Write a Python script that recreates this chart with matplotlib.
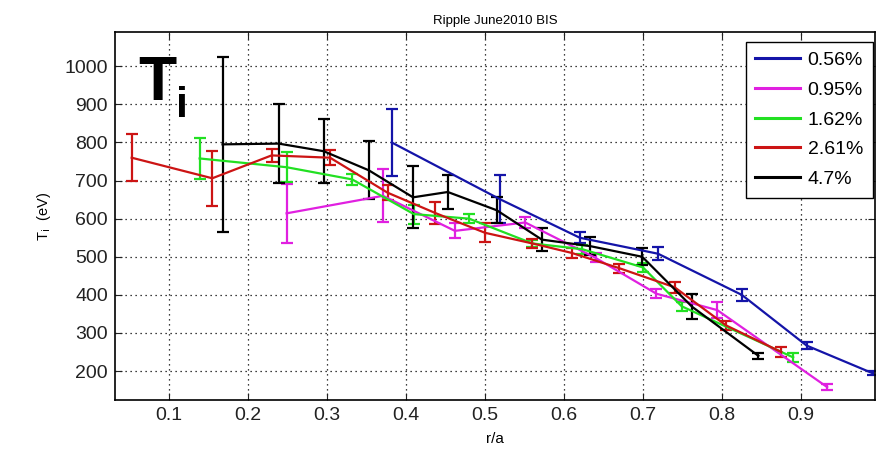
import numpy as np
import matplotlib as mpl
mpl.use('Agg')
import matplotlib.pyplot as plt
from matplotlib.lines import Line2D

plt.rcParams['font.family'] = ['Liberation Sans', 'DejaVu Sans']

# 0.56 %
r_056 = [0.382, 0.519, 0.620, 0.719, 0.825, 0.907, 0.991]
ti_056 = [800, 651, 550, 508, 400, 267, 194]
err_056 = [88, 63, 15, 17, 15, 10, 5]

# 0.95 %
r_095 = [0.249, 0.371, 0.462, 0.551, 0.640, 0.717, 0.794, 0.933]
ti_095 = [614, 660, 568, 590, 497, 403, 360, 158]
err_095 = [78, 70, 20, 15, 12, 12, 20, 8]

# 1.62 %
r_162 = [0.139, 0.249, 0.332, 0.410, 0.480, 0.560, 0.623, 0.700, 0.749, 0.890]
ti_162 = [758, 735, 703, 612, 600, 535, 520, 472, 370, 236]
err_162 = [53, 40, 15, 25, 12, 10, 12, 12, 12, 12]

# 2.61 %
r_261 = [0.053, 0.155, 0.230, 0.304, 0.377, 0.437, 0.500, 0.560, 0.610, 0.670,
         0.740, 0.805, 0.875]
ti_261 = [760, 706, 766, 760, 668, 615, 563, 535, 510, 470, 420, 320, 250]
err_261 = [62, 72, 18, 20, 20, 28, 25, 12, 12, 12, 15, 12, 12]

# 4.7 %
r_47 = [0.168, 0.239, 0.296, 0.353, 0.409, 0.453, 0.515, 0.572, 0.633, 0.699,
        0.762, 0.846]
ti_47 = [795, 797, 777, 727, 656, 670, 622, 545, 528, 500, 369, 240]
err_47 = [229, 103, 84, 76, 81, 44, 34, 31, 23, 22, 33, 7]

series = [
    ('0.56%', r_056, ti_056, err_056, '#1414a8'),
    ('0.95%', r_095, ti_095, err_095, '#e020e0'),
    ('1.62%', r_162, ti_162, err_162, '#22e022'),
    ('2.61%', r_261, ti_261, err_261, '#cc1414'),
    ('4.7%', r_47, ti_47, err_47, '#000000'),
]

fig = plt.figure(figsize=(8.76, 4.5), dpi=100)
ax = fig.add_axes([0.131, 0.111, 0.868, 0.818])

handles = []
for label, r, ti, err, col in series:
    ax.errorbar(r, ti, yerr=err, color=col, lw=1.6, elinewidth=1.6,
                capsize=4.5, capthick=1.6)
    handles.append(Line2D([], [], color=col, lw=2.2, label=label))

ax.set_xlim(0.0316, 0.9937)
ax.set_ylim(124, 1090)
ax.set_xticks(np.arange(0.1, 0.95, 0.1))
ax.set_xticklabels(['0.1', '0.2', '0.3', '0.4', '0.5', '0.6', '0.7', '0.8', '0.9'])
ax.set_yticks(np.arange(200, 1001, 100))
ax.tick_params(direction='in', labelsize=14, length=5, top=True, right=True,
               colors='#222222', pad=5)
ax.grid(True, color='black', linestyle=(0, (1, 3)), linewidth=0.9)
for s in ax.spines.values():
    s.set_linewidth(1.2)

ax.set_title('Ripple June2010 BIS', fontsize=9.5, pad=6)
ax.set_xlabel('r/a', fontsize=11, labelpad=6)
ax.set_ylabel(r'T$_\mathrm{i}$  (eV)', fontsize=10.5, labelpad=8)

ax.text(0.0608, 911, 'T', fontsize=45, fontweight='bold', va='baseline', ha='left')
ax.text(0.109, 866, 'i', fontsize=31, fontweight='bold', va='baseline', ha='left')

leg = ax.legend(handles=handles, loc='upper right', fontsize=14,
                handlelength=2.3, handletextpad=0.4, borderpad=0.5,
                labelspacing=0.62, fancybox=False, framealpha=1,
                edgecolor='black', borderaxespad=0,
                bbox_to_anchor=(0.997, 0.973))
leg.get_frame().set_linewidth(1.0)

plt.savefig('out.png', dpi=100)
